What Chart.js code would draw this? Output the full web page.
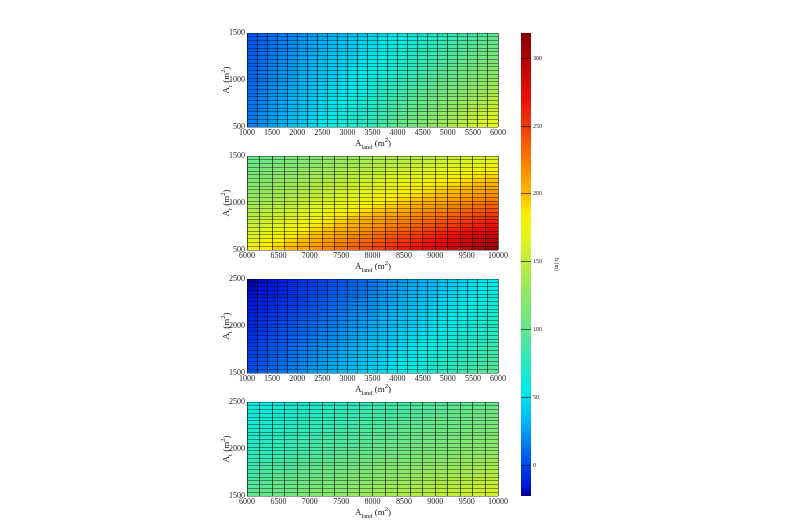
<!DOCTYPE html>
<html><head><meta charset="utf-8">
<script src="https://cdn.jsdelivr.net/npm/chart.js@4.4.1/dist/chart.umd.min.js"></script>
<style>
html,body{margin:0;padding:0;background:#fff;width:797px;height:532px;overflow:hidden;font-family:"Liberation Serif","Times New Roman",serif;}
canvas{position:absolute;z-index:0;}
.t{position:absolute;z-index:2;font-size:9px;color:#111;white-space:nowrap;line-height:12px;height:12px;width:100px;text-align:center;transform-origin:50px 6px;}
.t sub,.t sup{font-size:6.5px;line-height:0;}
</style></head><body>
<script>
// ---------------- DATA ----------------
const landEdgesA = [1000,1200,1400,1600,1800,2000,2200,2400,2600,2800,3000,3200,3400,3600,3800,4000,4200,4400,4600,4800,5000,5200,5400,5600,5800,6000];
const landEdgesB = [6000,6200,6400,6600,6800,7000,7200,7400,7600,7800,8000,8200,8400,8600,8800,9000,9200,9400,9600,9800,10000];
const areaEdgesA = [500,540,580,620,660,700,740,780,820,860,900,940,980,1020,1060,1100,1140,1180,1220,1260,1300,1340,1380,1420,1460,1500];
const areaEdgesB = [1500,1540,1580,1620,1660,1700,1740,1780,1820,1860,1900,1940,1980,2020,2060,2100,2140,2180,2220,2260,2300,2340,2380,2420,2460,2500];
const xTicksA = [1000,1500,2000,2500,3000,3500,4000,4500,5000,5500,6000];
const xTicksB = [6000,6500,7000,7500,8000,8500,9000,9500,10000];
const yTicksA = [500,1000,1500];
const yTicksB = [1500,2000,2500];
const barTicks = [0,50,100,150,200,250,300];
const hMin = -22.5, hMax = 318.5;

// h (m): rows from the lowest area band upward, columns from left to right
const hPanel1 = [
[16,21,27,32,37,42,48,53,58,63,69,74,79,87,95,102,110,118,126,133,141,149,157,164,172],
[16,21,26,31,36,41,47,52,57,62,67,72,77,85,93,100,108,115,123,130,138,146,153,161,168],
[15,20,25,30,35,40,45,50,56,61,66,71,76,83,91,98,105,113,120,128,135,142,150,157,165],
[15,20,25,29,34,39,44,49,54,59,64,69,74,82,89,96,103,110,118,125,132,139,146,154,161],
[14,19,24,29,34,38,43,48,53,58,63,68,73,80,87,94,101,108,115,122,129,136,143,150,157],
[14,18,23,28,33,38,42,47,52,57,62,66,71,78,85,92,99,105,112,119,126,133,140,146,153],
[13,18,22,27,32,37,41,46,51,55,60,65,70,76,83,90,96,103,110,116,123,130,136,143,150],
[13,17,22,26,31,36,40,45,49,54,59,63,68,74,81,87,94,100,107,113,120,126,133,139,146],
[12,17,21,26,30,35,39,44,48,53,57,62,66,73,79,85,92,98,104,110,117,123,129,136,142],
[12,16,20,25,29,34,38,43,47,51,56,60,65,71,77,83,89,95,102,108,114,120,126,132,138],
[11,15,20,24,28,33,37,41,46,50,55,59,63,69,75,81,87,93,99,105,111,117,123,129,135],
[11,15,19,23,28,32,36,40,45,49,53,57,62,67,73,79,85,90,96,102,108,113,119,125,131],
[10,14,18,23,27,31,35,39,43,48,52,56,60,66,71,77,82,88,94,99,105,110,116,121,127],
[10,14,18,22,26,30,34,38,42,47,51,55,59,64,70,75,81,86,92,97,103,108,113,119,124],
[9,13,17,21,25,29,33,37,41,46,50,54,58,63,68,74,79,84,90,95,100,106,111,116,122],
[9,13,17,21,25,29,33,37,41,45,49,53,57,62,67,72,77,83,88,93,98,104,109,114,119],
[8,12,16,20,24,28,32,36,40,43,47,51,55,60,66,71,76,81,86,91,96,101,106,112,117],
[8,11,15,19,23,27,31,35,39,43,46,50,54,59,64,69,74,79,84,89,94,99,104,109,114],
[7,11,15,19,22,26,30,34,38,42,45,49,53,58,63,68,73,77,82,87,92,97,102,107,112],
[7,10,14,18,22,25,29,33,37,40,44,48,52,57,61,66,71,76,80,85,90,95,99,104,109],
[6,10,13,17,21,25,28,32,36,40,43,47,51,55,60,65,69,74,79,83,88,92,97,102,106],
[6,9,13,17,20,24,28,31,35,39,42,46,50,54,59,63,68,72,77,81,86,90,95,99,104],
[5,9,12,16,19,23,27,30,34,37,41,45,48,53,57,62,66,70,75,79,84,88,92,97,101],
[5,8,12,15,19,22,26,29,33,37,40,44,47,52,56,60,64,69,73,77,82,86,90,94,99],
[4,8,11,15,18,22,25,29,32,36,39,43,46,50,54,59,63,67,71,75,79,84,88,92,96]
];
const hPanel2 = [
[180,186,193,200,207,214,221,228,235,242,249,256,263,270,277,283,290,297,304,311],
[176,182,189,196,203,210,216,223,230,237,244,250,257,264,271,277,284,291,298,304],
[172,178,185,192,198,205,212,218,225,232,238,245,251,258,265,271,278,284,291,298],
[168,174,181,187,194,200,207,213,220,226,233,239,246,252,259,265,271,278,284,291],
[164,170,177,183,189,196,202,209,215,221,228,234,240,246,253,259,265,271,278,284],
[160,166,173,179,185,191,198,204,210,216,223,229,235,241,247,253,259,265,271,277],
[156,162,168,174,181,187,193,199,205,211,217,223,229,235,241,247,253,259,264,270],
[152,158,164,170,176,182,188,194,200,206,212,218,223,229,235,241,246,252,258,264],
[148,154,160,166,172,177,183,189,195,201,207,212,218,223,229,234,240,246,251,257],
[144,150,156,161,167,173,179,184,190,196,201,207,212,218,223,228,234,239,245,250],
[141,146,152,157,163,168,174,179,185,190,196,201,206,212,217,222,227,233,238,243],
[137,142,147,153,158,164,169,175,180,185,191,196,201,206,211,216,221,226,231,236],
[133,138,143,148,154,159,164,170,175,180,185,190,195,200,205,210,215,220,225,230],
[130,135,140,145,151,156,161,166,171,176,182,186,191,196,201,205,210,215,220,224],
[127,132,137,142,147,152,157,163,168,173,178,182,187,191,196,201,205,210,214,219],
[125,129,134,139,144,149,154,159,164,169,174,178,183,187,191,196,200,205,209,214],
[122,127,131,136,141,146,151,155,160,165,170,174,178,183,187,191,196,200,204,208],
[119,124,129,133,138,143,147,152,157,161,166,170,174,178,182,187,191,195,199,203],
[116,121,126,130,135,139,144,148,153,157,162,166,170,174,178,182,186,190,194,198],
[114,118,123,127,131,136,140,145,149,154,158,162,166,170,173,177,181,185,189,193],
[111,115,120,124,128,133,137,141,146,150,154,158,162,165,169,173,176,180,184,187],
[108,113,117,121,125,129,134,138,142,146,150,154,157,161,164,168,171,175,178,182],
[106,110,114,118,122,126,130,134,138,142,146,150,153,156,160,163,167,170,173,177],
[103,107,111,115,119,123,127,131,135,139,142,146,149,152,155,159,162,165,168,171],
[100,104,108,112,116,119,123,127,131,135,139,142,145,148,151,154,157,160,163,166]
];
const hPanel3 = [
[3,7,10,13,17,20,24,27,31,34,37,41,44,48,53,57,61,65,69,73,77,82,86,90,94],
[2,6,9,12,16,19,23,26,29,33,36,40,43,47,51,55,59,63,68,72,76,80,84,88,92],
[1,5,8,11,15,18,21,25,28,32,35,38,42,46,50,54,58,62,66,70,74,78,82,86,90],
[0,4,7,10,14,17,20,24,27,30,34,37,40,44,48,52,56,60,64,68,72,76,80,84,88],
[-1,3,6,9,13,16,19,22,26,29,32,36,39,43,47,51,55,59,63,67,71,75,78,82,86],
[-2,2,5,8,11,15,18,21,24,28,31,34,38,41,45,49,53,57,61,65,69,73,77,81,85],
[-3,1,4,7,10,14,17,20,23,26,30,33,36,40,44,48,52,56,59,63,67,71,75,79,83],
[-4,0,3,6,9,12,16,19,22,25,28,32,35,39,42,46,50,54,58,62,65,69,73,77,81],
[-5,-1,2,5,8,11,14,18,21,24,27,30,33,37,41,45,49,52,56,60,64,67,71,75,79],
[-6,-2,1,4,7,10,13,16,20,23,26,29,32,36,40,43,47,51,55,58,62,66,69,73,77],
[-7,-3,0,3,6,9,12,15,18,21,25,28,31,34,38,42,46,49,53,57,60,64,68,71,75],
[-8,-4,-1,2,5,8,11,14,17,20,23,26,29,33,37,40,44,48,51,55,59,62,66,69,73],
[-9,-5,-2,1,4,7,10,13,16,19,22,25,28,32,35,39,42,46,50,53,57,60,64,68,71],
[-9,-6,-3,0,3,6,9,12,15,18,21,24,27,30,34,38,41,45,48,52,56,59,63,66,70],
[-10,-7,-4,-1,2,4,7,10,13,16,19,22,25,29,33,36,40,43,47,51,54,58,61,65,69],
[-11,-8,-5,-2,0,3,6,9,12,15,18,21,24,28,31,35,39,42,46,49,53,57,60,64,67],
[-12,-9,-7,-4,-1,2,5,8,11,14,17,20,23,27,30,34,37,41,45,48,52,55,59,63,66],
[-13,-10,-8,-5,-2,1,4,7,10,13,16,19,22,25,29,32,36,40,43,47,50,54,58,61,65],
[-14,-11,-9,-6,-3,0,3,6,9,12,15,17,20,24,28,31,35,38,42,46,49,53,56,60,64],
[-15,-12,-10,-7,-4,-1,2,5,8,10,13,16,19,23,26,30,33,37,41,44,48,51,55,59,62],
[-16,-13,-11,-8,-5,-2,1,4,6,9,12,15,18,21,25,29,32,36,39,43,47,50,54,57,61],
[-17,-14,-12,-9,-6,-3,0,2,5,8,11,14,16,20,24,27,31,34,38,42,45,49,52,56,60],
[-18,-15,-13,-10,-7,-4,-2,1,4,7,10,12,15,19,22,26,30,33,37,40,44,48,51,55,58],
[-19,-16,-14,-11,-8,-5,-3,0,3,6,8,11,14,18,21,25,28,32,36,39,43,46,50,54,57],
[-20,-17,-15,-12,-9,-6,-4,-1,2,4,7,10,13,16,20,23,27,31,34,38,41,45,49,52,56]
];
const hPanel4 = [
[98,102,105,109,113,117,120,124,128,131,135,138,141,144,147,150,153,156,159,162],
[96,100,103,107,110,114,118,121,125,129,132,135,138,141,144,147,150,153,156,159],
[94,98,101,105,108,112,115,119,122,126,130,132,135,138,141,144,147,150,153,156],
[92,95,99,102,106,109,113,116,120,123,127,129,132,135,138,141,144,147,150,152],
[90,93,97,100,104,107,110,114,117,120,124,127,129,132,135,138,141,144,146,149],
[88,91,95,98,101,105,108,111,114,118,121,124,127,129,132,135,138,140,143,146],
[86,89,93,96,99,102,105,109,112,115,118,121,124,126,129,132,135,137,140,143],
[84,87,90,94,97,100,103,106,109,112,115,118,121,123,126,129,132,134,137,140],
[82,85,88,91,94,97,100,103,106,109,113,115,118,120,123,126,128,131,134,137],
[80,83,86,89,92,95,98,101,104,107,110,112,115,118,120,123,125,128,131,133],
[78,81,84,87,90,93,95,98,101,104,107,109,112,115,117,120,122,125,128,130],
[76,79,82,85,87,90,93,96,99,101,104,107,109,112,114,117,119,122,124,127],
[74,77,80,82,85,88,90,93,96,99,101,104,106,109,111,114,116,119,121,124],
[73,76,78,81,84,86,89,92,94,97,100,102,105,107,110,112,114,117,119,122],
[72,74,77,80,82,85,88,90,93,95,98,100,103,105,108,110,113,115,118,120],
[71,73,76,78,81,83,86,89,91,94,96,99,101,104,106,109,111,113,116,118],
[69,72,74,77,79,82,85,87,90,92,95,97,100,102,104,107,109,112,114,116],
[68,70,73,76,78,81,83,86,88,91,93,96,98,100,103,105,107,110,112,115],
[67,69,72,74,77,79,82,84,87,89,92,94,96,99,101,103,106,108,110,113],
[65,68,70,73,75,78,80,83,85,88,90,92,95,97,99,102,104,106,109,111],
[64,66,69,71,74,76,79,81,84,86,88,91,93,95,98,100,102,105,107,109],
[63,65,68,70,72,75,77,80,82,84,87,89,91,94,96,98,100,103,105,107],
[61,64,66,69,71,73,76,78,80,83,85,87,90,92,94,96,99,101,103,106],
[60,62,65,67,69,72,74,76,79,81,84,86,88,90,92,95,97,99,101,104],
[59,61,63,66,68,70,73,75,77,80,82,84,86,89,91,93,95,97,100,102]
];

// ---------------- STYLE ----------------
const colorStops = [[-22.5,0,0,130],[-15,0,20,220],[0,0,70,235],[30,0,175,245],[55,0,235,235],[75,40,232,190],[100,100,230,140],[130,150,232,95],[150,190,236,60],[168,225,245,30],[185,250,240,0],[200,252,185,0],[222,250,130,0],[250,240,60,10],[270,235,15,10],[300,175,5,5],[318.5,130,0,0]];
function colorFor(v){
  if (v <= colorStops[0][0]) { const s=colorStops[0]; return `rgb(${s[1]},${s[2]},${s[3]})`; }
  for (let k=1;k<colorStops.length;k++){
    const a=colorStops[k-1], b=colorStops[k];
    if (v<=b[0]){
      const f=(v-a[0])/(b[0]-a[0]);
      return `rgb(${Math.round(a[1]+(b[1]-a[1])*f)},${Math.round(a[2]+(b[2]-a[2])*f)},${Math.round(a[3]+(b[3]-a[3])*f)})`;
    }
  }
  const s=colorStops[colorStops.length-1]; return `rgb(${s[1]},${s[2]},${s[3]})`;
}
const FONT = '"Liberation Serif","Times New Roman",serif';
Chart.defaults.font.family = FONT;
const TXT = '#222';
const PLOT_LEFT = 247, PLOT_W = 251, PLOT_H = 94;
const PANEL_TOPS = [33,156,279,402];
const CANVAS_LEFT = 190, CANVAS_W = 320, CANVAS_H = 150, PAD_TOP = 13;

function addText(html, cx, cy, rotate){
  const d=document.createElement('div'); d.className='t'; d.innerHTML=html;
  d.style.left=Math.round(cx-50)+'px'; d.style.top=Math.round(cy-6)+'px';
  if (rotate) d.style.transform='rotate(-90deg)';
  document.body.appendChild(d);
}

function makePanel(k, landEdges, areaEdges, xTicks, yTicks, h, ySub){
  const cv=document.createElement('canvas');
  cv.width=CANVAS_W; cv.height=CANVAS_H;
  cv.style.left=CANVAS_LEFT+'px'; cv.style.top=(PANEL_TOPS[k]-PAD_TOP)+'px';
  document.body.appendChild(cv);
  const centers = landEdges.slice(0,-1).map((v,i)=>(v+landEdges[i+1])/2);
  const datasets = h.map((row,j)=>({
    data: centers.map((x,i)=>({x:x, y:[areaEdges[j], areaEdges[j+1]]})),
    backgroundColor: row.map(colorFor),
    borderWidth:0, grouped:false, barPercentage:1, categoryPercentage:1
  }));
  const lx=landEdges[0], hx=landEdges[landEdges.length-1];
  const ly=areaEdges[0], hy=areaEdges[areaEdges.length-1];
  const tickFont={family:FONT,size:8};
  new Chart(cv,{
    type:'bar',
    data:{datasets},
    options:{
      responsive:false, animation:false, events:[],
      layout:{padding:{top:PAD_TOP,right:CANVAS_W-(PLOT_LEFT-CANVAS_LEFT)-PLOT_W,left:0,bottom:0}},
      plugins:{legend:{display:false},tooltip:{enabled:false}},
      scales:{
        x:{type:'linear',position:'bottom',min:lx,max:hx,offset:false,
           afterBuildTicks:s=>{s.ticks=xTicks.map(v=>({value:v}));},
           ticks:{font:tickFont,color:TXT,padding:1,maxRotation:0,autoSkip:false,callback:v=>String(v)},
           grid:{display:false,drawTicks:false,offset:false},border:{display:false},
           afterFit:s=>{s.height=CANVAS_H-PAD_TOP-PLOT_H;}},
        xg:{type:'linear',position:'bottom',min:lx,max:hx,offset:false,
           afterBuildTicks:s=>{s.ticks=landEdges.map(v=>({value:v}));},
           ticks:{display:false},
           grid:{color:'rgba(0,0,0,0.6)',lineWidth:1,drawTicks:false,z:1,offset:false},border:{display:false},
           afterFit:s=>{s.height=0;}},
        y:{type:'linear',position:'left',min:ly,max:hy,
           afterBuildTicks:s=>{s.ticks=yTicks.map(v=>({value:v}));},
           ticks:{font:tickFont,color:TXT,padding:2,callback:v=>String(v)},
           grid:{display:false,drawTicks:false},border:{display:false},
           afterFit:s=>{s.width=PLOT_LEFT-CANVAS_LEFT;}},
        yg:{type:'linear',position:'left',min:ly,max:hy,
           afterBuildTicks:s=>{s.ticks=areaEdges.map(v=>({value:v}));},
           ticks:{display:false},
           grid:{color:'rgba(0,0,0,0.4)',lineWidth:1,drawTicks:false,z:1},border:{display:false},
           afterFit:s=>{s.width=0;}}
      }
    }
  });
  const top=PANEL_TOPS[k];
  addText('A<sub>land</sub> (m<sup>2</sup>)', PLOT_LEFT+PLOT_W/2, top+PLOT_H+16, false);
  addText('A<sub>'+ySub+'</sub> (m<sup>2</sup>)', 226, top+PLOT_H/2, true);
}

makePanel(0, landEdgesA, areaEdgesA, xTicksA, yTicksA, hPanel1, 'r');
makePanel(1, landEdgesB, areaEdgesA, xTicksB, yTicksA, hPanel2, 'r');
makePanel(2, landEdgesA, areaEdgesB, xTicksA, yTicksB, hPanel3, 't');
makePanel(3, landEdgesB, areaEdgesB, xTicksB, yTicksB, hPanel4, 't');

// ---------------- COLOUR BAR ----------------
(function(){
  const cv=document.createElement('canvas');
  cv.width=120; cv.height=490;
  cv.style.left='480px'; cv.style.top='20px';
  document.body.appendChild(cv);
  function grad(chart){
    const area=chart.chartArea, ys=chart.scales.y;
    if(!area||!ys) return colorFor(150);
    const g=chart.ctx.createLinearGradient(0, ys.getPixelForValue(hMin), 0, ys.getPixelForValue(hMax));
    colorStops.forEach(s=>{
      const f=Math.min(1,Math.max(0,(s[0]-hMin)/(hMax-hMin)));
      g.addColorStop(f,`rgb(${s[1]},${s[2]},${s[3]})`);
    });
    return g;
  }
  new Chart(cv,{
    type:'bar',
    data:{labels:['h'],datasets:[{data:[[hMin,hMax]],backgroundColor:c=>grad(c.chart),borderWidth:0,barPercentage:1,categoryPercentage:1}]},
    options:{
      responsive:false, animation:false, events:[],
      layout:{padding:{left:41,top:13,right:40,bottom:14}},
      plugins:{legend:{display:false},tooltip:{enabled:false}},
      scales:{
        x:{display:false},
        y:{position:'right',min:hMin,max:hMax,
           afterBuildTicks:s=>{s.ticks=barTicks.map(v=>({value:v}));},
           ticks:{font:{family:FONT,size:6},color:TXT,padding:2,callback:v=>String(v)},
           grid:{color:'rgba(0,0,0,0.6)',lineWidth:1,drawTicks:false,z:1},
           border:{display:false},
           title:{display:true,text:'h (m)',font:{family:FONT,size:6},color:TXT,padding:0},
           afterFit:s=>{s.width=29;}}
      }
    }
  });
})();
</script>
</body></html>
